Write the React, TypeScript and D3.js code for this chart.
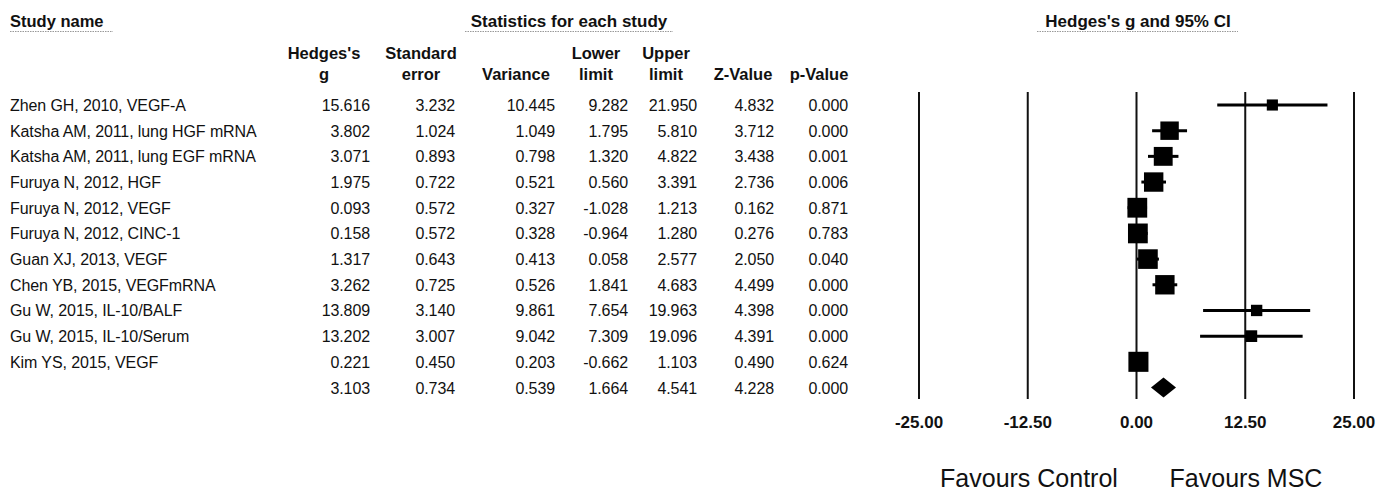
import React from "react";
import * as d3 from "d3";

// Per-study statistics (Hedges's g, random-effects meta-analysis)
const studies = [
  "Zhen GH, 2010, VEGF-A",
  "Katsha AM, 2011, lung HGF mRNA",
  "Katsha AM, 2011, lung EGF mRNA",
  "Furuya N, 2012, HGF",
  "Furuya N, 2012, VEGF",
  "Furuya N, 2012, CINC-1",
  "Guan XJ, 2013, VEGF",
  "Chen YB, 2015, VEGFmRNA",
  "Gu W, 2015, IL-10/BALF",
  "Gu W, 2015, IL-10/Serum",
  "Kim YS, 2015, VEGF",
];
const hedgesG = [15.616, 3.802, 3.071, 1.975, 0.093, 0.158, 1.317, 3.262, 13.809, 13.202, 0.221];
const stdErr = [3.232, 1.024, 0.893, 0.722, 0.572, 0.572, 0.643, 0.725, 3.14, 3.007, 0.45];
const variance = [10.445, 1.049, 0.798, 0.521, 0.327, 0.328, 0.413, 0.526, 9.861, 9.042, 0.203];
const lowerLimit = [9.282, 1.795, 1.32, 0.56, -1.028, -0.964, 0.058, 1.841, 7.654, 7.309, -0.662];
const upperLimit = [21.95, 5.81, 4.822, 3.391, 1.213, 1.28, 2.577, 4.683, 19.963, 19.096, 1.103];
const zValue = [4.832, 3.712, 3.438, 2.736, 0.162, 0.276, 2.05, 4.499, 4.398, 4.391, 0.49];
const pValue = [0.0, 0.0, 0.001, 0.006, 0.871, 0.783, 0.04, 0.0, 0.0, 0.0, 0.624];

// Pooled (random-effects) estimate
const pooled = { g: 3.103, se: 0.734, variance: 0.539, lower: 1.664, upper: 4.541, z: 4.228, p: 0.0 };
// Between-study variance used for the random-effects weights
const tau2 = 4.35;

const axisTicks = [-25, -12.5, 0, 12.5, 25];

const W = 1386;
const H = 494;
const FONT = "'Liberation Sans', Arial, Helvetica, sans-serif";

const locale = d3.formatLocale({ decimal: ".", thousands: ",", grouping: [3], currency: ["$", ""], minus: "-" });

export default function App() {
  const fmt = locale.format(".3f");
  const fmt2 = locale.format(".2f");
  const nRows = studies.length + 1;
  const y = d3.scaleLinear().domain([0, nRows - 1]).range([105, 387.5]);
  const x = d3.scaleLinear().domain([-25, 25]).range([919, 1354]);
  const weights = variance.map((v) => 1 / (v + tau2));
  const boxScale = 42.8;

  const columns = [
    { key: "g", head: ["Hedges's", "g"], cx: 324, right: 370, vals: hedgesG, pooled: pooled.g },
    { key: "se", head: ["Standard", "error"], cx: 421, right: 455, vals: stdErr, pooled: pooled.se },
    { key: "var", head: ["", "Variance"], cx: 516, right: 555, vals: variance, pooled: pooled.variance },
    { key: "lo", head: ["Lower", "limit"], cx: 596, right: 628, vals: lowerLimit, pooled: pooled.lower },
    { key: "hi", head: ["Upper", "limit"], cx: 666, right: 697, vals: upperLimit, pooled: pooled.upper },
    { key: "z", head: ["", "Z-Value"], cx: 743, right: 774, vals: zValue, pooled: pooled.z },
    { key: "p", head: ["", "p-Value"], cx: 819, right: 848, vals: pValue, pooled: pooled.p },
  ];

  const dataFont = { fontFamily: FONT, fontSize: 16, fill: "#111", letterSpacing: -0.1 } as const;
  const headFont = { fontFamily: FONT, fontSize: 16.5, fontWeight: 700, fill: "#111" } as const;
  const titleFont = { fontFamily: FONT, fontSize: 17, fontWeight: 700, fill: "#111" } as const;

  const py = y(nRows - 1);
  const diamond = [
    [x(pooled.lower), py],
    [x(pooled.g), py - 10],
    [x(pooled.upper), py],
    [x(pooled.g), py + 10],
  ];

  return (
    <svg width={W} height={H} style={{ position: "absolute", left: 0, top: 0, background: "#fff" }}>
      {/* Section titles */}
      <text x={10} y={27} {...titleFont} fontSize={16.5}>Study name</text>
      <line x1={10} x2={113} y1={31.5} y2={31.5} stroke="#999" strokeDasharray="1.5 1" />
      <text x={569} y={27} textAnchor="middle" {...titleFont}>Statistics for each study</text>
      <line x1={465} x2={673} y1={31.5} y2={31.5} stroke="#999" strokeDasharray="1.5 1" />
      <text x={1138} y={27} textAnchor="middle" {...titleFont}>Hedges's g and 95% CI</text>
      <line x1={1037} x2={1238} y1={31.5} y2={31.5} stroke="#999" strokeDasharray="1.5 1" />

      {/* Column headers */}
      {columns.map((c) => (
        <g key={c.key}>
          <text x={c.cx} y={59} textAnchor="middle" {...headFont}>{c.head[0]}</text>
          <text x={c.cx} y={80} textAnchor="middle" {...headFont}>{c.head[1]}</text>
        </g>
      ))}

      {/* Study rows */}
      {studies.map((s, i) => (
        <g key={s}>
          <text x={10} y={y(i) + 6} {...dataFont}>{s}</text>
          {columns.map((c) => (
            <text key={c.key} x={c.right} y={y(i) + 6} textAnchor="end" {...dataFont}>
              {fmt(c.vals[i])}
            </text>
          ))}
        </g>
      ))}
      {columns.map((c) => (
        <text key={c.key} x={c.right} y={py + 6} textAnchor="end" {...dataFont}>
          {fmt(c.pooled)}
        </text>
      ))}

      {/* Forest plot reference lines */}
      {axisTicks.map((t) => (
        <g key={t}>
          <line x1={x(t)} x2={x(t)} y1={92} y2={399} stroke="#111" strokeWidth={2} />
          <text x={x(t)} y={428} textAnchor="middle" {...headFont} fontSize={17}>{fmt2(t)}</text>
        </g>
      ))}

      {/* Confidence intervals and weighted boxes */}
      {studies.map((s, i) => {
        const side = boxScale * Math.sqrt(weights[i]);
        return (
          <g key={s}>
            <line x1={x(lowerLimit[i])} x2={x(upperLimit[i])} y1={y(i)} y2={y(i)} stroke="#000" strokeWidth={3} />
            <rect x={x(hedgesG[i]) - side / 2} y={y(i) - side / 2} width={side} height={side} fill="#000" />
          </g>
        );
      })}
      <polygon points={diamond.map((p) => p.join(",")).join(" ")} fill="#000" />

      <text x={1029} y={487} textAnchor="middle" fontFamily={FONT} fontSize={25} fill="#111">Favours Control</text>
      <text x={1246} y={487} textAnchor="middle" fontFamily={FONT} fontSize={25} fill="#111">Favours MSC</text>
    </svg>
  );
}
